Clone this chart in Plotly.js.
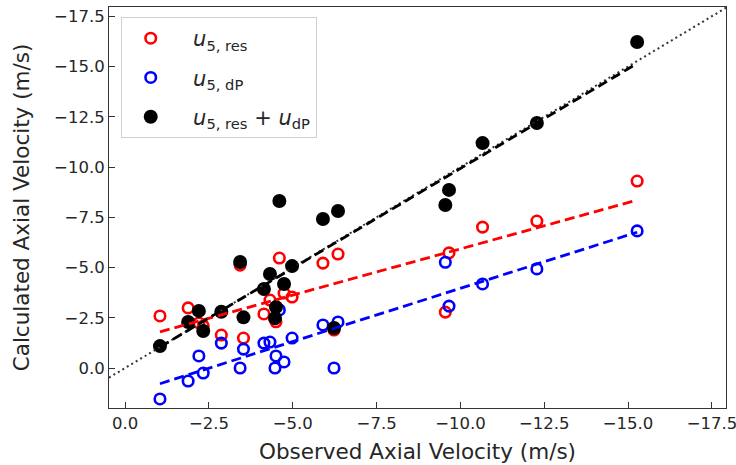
<!DOCTYPE html>
<html><head><meta charset="utf-8">
<script src="https://cdn.plot.ly/plotly-3.0.1.min.js"></script>
<style>html,body{margin:0;padding:0;background:#fff}#chart{width:736px;height:465px}</style>
</head><body><div id="chart"></div>
<script>
// Observed axial velocity (m/s)
const observed = [-1.04, -1.88, -2.20, -2.33, -2.87, -3.43, -3.53, -4.14, -4.32, -4.47, -4.50,
                  -4.60, -4.74, -4.98, -5.90, -6.23, -6.35, -9.55, -9.66, -10.66, -12.28, -15.27];
// Calculated: u5,res
const u5Res = [-2.59, -2.99, -2.24, -2.09, -1.64, -5.12, -1.49, -2.69, -3.38, -2.45, -2.30,
               -5.47, -3.73, -3.53, -5.22, -1.89, -5.67, -2.78, -5.73, -7.01, -7.31, -9.30];
// Calculated: u5,dP
const u5dP = [1.54, 0.65, -0.60, 0.25, -1.24, 0.00, -0.94, -1.24, -1.29, 0.00, -0.60,
              -2.89, -0.30, -1.49, -2.14, 0.00, -2.29, -5.26, -3.08, -4.18, -4.93, -6.82];
// Calculated: u5,res + udP
const u5Sum = [-1.09, -2.29, -2.84, -1.84, -2.80, -5.27, -2.52, -3.93, -4.68, -2.49, -3.03,
               -8.31, -4.18, -5.07, -7.41, -1.99, -7.81, -8.11, -8.86, -11.19, -12.19, -16.22];
const tickVals = [0, -2.5, -5, -7.5, -10, -12.5, -15, -17.5];
const identityLine = [0.48, -17.95];
const xRange = [0.48, -17.92];
const yRange = [1.99, -17.96];

const labelRes = '<i>u</i><sub>5, res</sub>';
const labelDP = '<i>u</i><sub>5, dP</sub>';
const labelSum = '<i>u</i><sub>5, res</sub> + <i>u</i><sub>dP</sub>';

function fitLine(x, y) {
  const n = x.length;
  const mx = x.reduce((a, b) => a + b, 0) / n;
  const my = y.reduce((a, b) => a + b, 0) / n;
  let sxy = 0, sxx = 0;
  for (let i = 0; i < n; i++) { sxy += (x[i] - mx) * (y[i] - my); sxx += (x[i] - mx) ** 2; }
  const m = sxy / sxx, b = my - m * mx;
  const xs = [Math.max(...x), Math.min(...x)];
  return { x: xs, y: xs.map(v => m * v + b) };
}

const font = 'DejaVu Sans, sans-serif';
const pad = '\u00A0\u00A0';

const traces = [
  { x: observed, y: u5Res, type: 'scatter', mode: 'markers', name: pad + labelRes, legendgroup: 'a',
    marker: { symbol: 'circle-open', size: 10.5, color: '#ff0000', line: { width: 2.6, color: '#ff0000' } } },
  { x: observed, y: u5dP, type: 'scatter', mode: 'markers', name: pad + labelDP, legendgroup: 'b',
    marker: { symbol: 'circle-open', size: 10.5, color: '#0000ff', line: { width: 2.6, color: '#0000ff' } } },
  { x: observed, y: u5Sum, type: 'scatter', mode: 'markers', name: pad + labelSum, legendgroup: 'c',
    marker: { symbol: 'circle', size: 14, color: '#000000' } },
  { x: identityLine, y: identityLine, type: 'scatter', mode: 'lines', showlegend: false,
    line: { color: '#333333', width: 2, dash: '2px,3.2px' } },
];
const fr = fitLine(observed, u5Res), fb = fitLine(observed, u5dP), fs = fitLine(observed, u5Sum);
traces.push({ x: fr.x, y: fr.y, type: 'scatter', mode: 'lines', showlegend: false,
  line: { color: '#ff0000', width: 2.8, dash: '10px,5px' } });
traces.push({ x: fb.x, y: fb.y, type: 'scatter', mode: 'lines', showlegend: false,
  line: { color: '#0000ff', width: 2.8, dash: '10px,5px' } });
traces.push({ x: fs.x, y: fs.y, type: 'scatter', mode: 'lines', showlegend: false,
  line: { color: '#000000', width: 2.8, dash: '10px,5px' } });

const axisCommon = {
  tickvals: tickVals, tickformat: '.1f', ticks: 'inside', ticklen: 6, tickwidth: 1, tickcolor: '#333',
  showline: true, mirror: true, linecolor: '#333', linewidth: 1, showgrid: false, zeroline: false,
  ticklabeloverflow: 'allow',
  tickfont: { family: font, size: 16.5, color: '#262626' },
};

const layout = {
  width: 736, height: 465,
  margin: { l: 109, r: 10, t: 7, b: 57 },
  paper_bgcolor: '#fff', plot_bgcolor: '#fff',
  font: { family: font, color: '#262626' },
  xaxis: Object.assign({}, axisCommon, { range: xRange,
    title: { text: 'Observed Axial Velocity (m/s)', font: { family: font, size: 21.5, color: '#262626' }, standoff: 12 } }),
  yaxis: Object.assign({}, axisCommon, { range: yRange,
    title: { text: 'Calculated Axial Velocity (m/s)', font: { family: font, size: 21.5, color: '#262626' }, standoff: 18 } }),
  legend: { x: 0.019, y: 0.975, xanchor: 'left', yanchor: 'top', bgcolor: '#fff',
    bordercolor: '#d0d0d0', borderwidth: 1, tracegroupgap: 9, itemwidth: 48,
    font: { family: font, size: 21, color: '#262626' } },
  showlegend: true,
};

Plotly.newPlot('chart', traces, layout, { displayModeBar: false, staticPlot: true });
</script>
</body></html>
